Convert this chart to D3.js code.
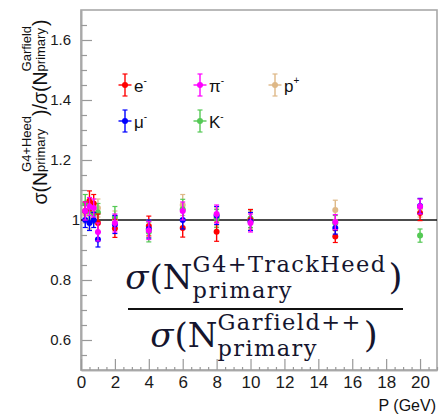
<!DOCTYPE html>
<html>
<head>
<meta charset="utf-8">
<script src="https://cdn.jsdelivr.net/npm/d3@7"></script>
<style>
  body { margin: 0; background: #fff; }
  svg { display: block; }
</style>
</head>
<body>
<svg id="chart" width="439" height="416"></svg>
<script>
// Beam momenta (GeV) at which each particle type was simulated
const momenta = [0.25, 0.5, 0.75, 1, 2, 4, 6, 8, 10, 15, 20];

// Ratio sigma(N_primary, G4+Heed) / sigma(N_primary, Garfield++) and its uncertainty
const electronRatio = [1.030, 1.064, 1.055, 0.990, 0.972, 0.980, 0.973, 0.961, 1.000, 0.945, 1.023];
const electronErr   = [0.030, 0.033, 0.030, 0.030, 0.030, 0.033, 0.030, 0.032, 0.035, 0.020, 0.025];
const muonRatio     = [1.000, 0.990, 1.000, 0.935, 0.985, 0.970, 1.000, 1.015, 0.995, 0.973, 1.047];
const muonErr       = [0.025, 0.025, 0.025, 0.025, 0.030, 0.030, 0.030, 0.030, 0.030, 0.020, 0.025];
const pionRatio     = [1.030, 1.045, 1.040, 0.960, 0.990, 0.965, 1.030, 1.020, 0.990, 0.993, 1.045];
const pionErr       = [0.030, 0.030, 0.030, 0.030, 0.030, 0.030, 0.030, 0.030, 0.030, 0.025, 0.025];
const kaonRatio     = [1.055, 1.030, 1.020, 1.025, 1.010, 0.960, 1.036, 1.005, 1.005, 0.990, 0.948];
const kaonErr       = [0.030, 0.030, 0.030, 0.030, 0.035, 0.033, 0.033, 0.030, 0.030, 0.025, 0.022];
const protonRatio   = [1.020, 1.000, 1.020, 1.040, 1.000, 0.970, 1.050, 1.010, 1.000, 1.033, 1.040];
const protonErr     = [0.030, 0.030, 0.030, 0.030, 0.030, 0.030, 0.035, 0.030, 0.030, 0.033, 0.030];

// Particle labels (symbol + charge) and colours, in legend order
const legendSymbols = ["e", "π", "p", "μ", "K"];
const legendCharges = ["-", "-", "+", "-", "-"];
const legendColors  = ["#ff0000", "#ff00ff", "#deb887", "#0000ff", "#55c955"];

// Axis ticks
const xMajorTicks = d3.range(0, 21, 2);
const xMinorTicks = d3.range(0, 21.01, 0.5).filter(v => v % 2 !== 0);
const yMajorTicks = [0.6, 0.8, 1, 1.2, 1.4, 1.6];
const yMinorTicks = d3.range(0.55, 1.7, 0.05).map(v => +v.toFixed(2)).filter(v => !yMajorTicks.includes(v));

// Series in drawing order (back to front)
const series = [
  { name: "p",  color: "#deb887", ratio: protonRatio,   err: protonErr },
  { name: "K",  color: "#55c955", ratio: kaonRatio,     err: kaonErr },
  { name: "e",  color: "#ff0000", ratio: electronRatio, err: electronErr },
  { name: "mu", color: "#0000ff", ratio: muonRatio,     err: muonErr },
  { name: "pi", color: "#ff00ff", ratio: pionRatio,     err: pionErr }
];

const svg = d3.select("#chart");
const frame = { left: 81, right: 437, top: 10, bottom: 370 };

const x = d3.scaleLinear().domain([0, 21]).range([frame.left, frame.right]);
const y = d3.scaleLinear().domain([0.5, 1.7]).range([frame.bottom, frame.top]);

const sans = "'Liberation Sans', Arial, Helvetica, sans-serif";
const frameColor = "#a8a8a8";

// Frame
svg.append("rect")
  .attr("x", frame.left).attr("y", frame.top)
  .attr("width", frame.right - frame.left).attr("height", frame.bottom - frame.top)
  .attr("fill", "#fff").attr("stroke", frameColor).attr("stroke-width", 1.6);

// Y axis (ticks point into the plot)
const yAxis = svg.append("g")
  .attr("transform", `translate(${frame.left},0)`)
  .call(d3.axisLeft(y).tickValues(yMajorTicks).tickSizeInner(-11).tickSizeOuter(0).tickPadding(10)
        .tickFormat(d3.format("~g")));
svg.append("g")
  .attr("transform", `translate(${frame.left},0)`)
  .call(d3.axisLeft(y).tickValues(yMinorTicks).tickSizeInner(-6).tickSizeOuter(0).tickFormat(""));

// X axis
const xAxis = svg.append("g")
  .attr("transform", `translate(0,${frame.bottom})`)
  .call(d3.axisBottom(x).tickValues(xMajorTicks).tickSizeInner(-11).tickSizeOuter(0).tickPadding(6)
        .tickFormat(d3.format("d")));
svg.append("g")
  .attr("transform", `translate(0,${frame.bottom})`)
  .call(d3.axisBottom(x).tickValues(xMinorTicks).tickSizeInner(-3).tickSizeOuter(0).tickFormat(""));

svg.selectAll(".domain").attr("stroke", frameColor).attr("stroke-width", 1.6);
svg.selectAll(".tick line").attr("stroke", "#999").attr("stroke-width", 1.2);
svg.selectAll(".tick text").attr("fill", "#1a1a1a").style("font-family", sans);
yAxis.selectAll(".tick text").style("font-size", "15px")
  .attr("x", d => Number.isInteger(d) ? -1 : -10);
xAxis.selectAll(".tick text").style("font-size", "17px");

// Reference line at ratio 1
svg.append("line")
  .attr("x1", x(0)).attr("x2", frame.right)
  .attr("y1", y(1)).attr("y2", y(1))
  .attr("stroke", "#111").attr("stroke-width", 1.5);

// Data points with vertical error bars
const cap = 2.5;
series.forEach(s => {
  const g = svg.append("g").attr("class", "series-" + s.name);
  momenta.forEach((p, i) => {
    const cx = x(p), lo = y(s.ratio[i] - s.err[i]), hi = y(s.ratio[i] + s.err[i]);
    g.append("line").attr("x1", cx).attr("x2", cx).attr("y1", lo).attr("y2", hi)
      .attr("stroke", s.color).attr("stroke-width", 1.4);
    g.append("line").attr("x1", cx - cap).attr("x2", cx + cap).attr("y1", lo).attr("y2", lo)
      .attr("stroke", s.color).attr("stroke-width", 1.2);
    g.append("line").attr("x1", cx - cap).attr("x2", cx + cap).attr("y1", hi).attr("y2", hi)
      .attr("stroke", s.color).attr("stroke-width", 1.2);
    g.append("circle").attr("cx", cx).attr("cy", y(s.ratio[i])).attr("r", 3).attr("fill", s.color);
  });
});

// Legend
const legend = svg.append("g").style("font-family", sans);
legendSymbols.forEach((sym, i) => {
  const cx = 125 + (i % 3) * 75, cy = 85 + Math.floor(i / 3) * 36;
  const c = legendColors[i];
  const g = legend.append("g");
  g.append("line").attr("x1", cx - 6.5).attr("x2", cx + 6.5).attr("y1", cy).attr("y2", cy)
    .attr("stroke", c).attr("stroke-width", 1.4);
  g.append("line").attr("x1", cx).attr("x2", cx).attr("y1", cy - 11).attr("y2", cy + 11)
    .attr("stroke", c).attr("stroke-width", 1.4);
  [cy - 11, cy + 11].forEach(yy => g.append("line").attr("x1", cx - 2.5).attr("x2", cx + 2.5)
    .attr("y1", yy).attr("y2", yy).attr("stroke", c).attr("stroke-width", 1.2));
  g.append("circle").attr("cx", cx).attr("cy", cy).attr("r", 3).attr("fill", c);
  const t = g.append("text").attr("x", cx + 9).attr("y", cy + 7).attr("fill", "#111")
    .style("font-size", "17px");
  t.append("tspan").text(sym);
  t.append("tspan").attr("dy", -8).style("font-size", "10px").text(legendCharges[i]);
});

// Helper: lays out one text run with stacked super/subscripts (as tspans of a single <text>)
function scripted(parent, parts, cfg) {
  const text = parent.append("text");
  let cx = 0;
  parts.forEach(p => {
    if (p.sup !== undefined) {
      const a = text.append("tspan").attr("x", cx).attr("y", cfg.supDy)
        .style("font-size", cfg.small + "px").style("letter-spacing", (cfg.track || 0) + "px").text(p.sup);
      const b = text.append("tspan").attr("x", cx).attr("y", cfg.subDy)
        .style("font-size", cfg.small + "px").style("letter-spacing", (cfg.track || 0) + "px").text(p.sub);
      cx += Math.max(a.node().getComputedTextLength(), b.node().getComputedTextLength()) + (cfg.gap || 0);
    } else {
      const t = text.append("tspan").attr("x", cx).attr("y", 0)
        .style("font-size", (p.size || cfg.big) + "px").text(p.t);
      if (p.italic) t.style("font-style", "italic");
      cx += t.node().getComputedTextLength() + (p.after || 0);
    }
  });
  return { text, width: cx };
}

// Y axis title
const yTitle = svg.append("g")
  .attr("transform", "translate(46.5,112) rotate(-90)")
  .style("font-family", sans).attr("fill", "#111");
const yt = scripted(yTitle, [
  { t: "σ(N" }, { sup: "G4+Heed", sub: "primary" },
  { t: ")/σ(N" }, { sup: "Garfield", sub: "primary" }, { t: ")" }
], { big: 19.5, small: 13, supDy: -15.5, subDy: -2 });
yt.text.attr("transform", `translate(${-yt.width / 2},0)`);

// X axis title
svg.append("text").attr("x", 436).attr("y", 411).attr("text-anchor", "end")
  .style("font-family", sans).style("font-size", "16px").attr("fill", "#111")
  .text("P (GeV)");

// Ratio definition drawn as a fraction
const serif = "'DejaVu Serif', 'Liberation Serif', serif";
const formula = svg.append("g").style("font-family", serif).attr("fill", "#15152e");
const fracCenter = 264;
const fracScript = { big: 34, small: 22.5, supDy: -17, subDy: 8.5, gap: 2, track: 1.4 };
const num = scripted(formula, [
  { t: "σ", italic: true, after: 1 }, { t: "(N" }, { sup: "G4+TrackHeed", sub: "primary" }, { t: ")", size: 36 }
], fracScript);
num.text.attr("transform", `translate(${fracCenter - num.width / 2},289)`);
const den = scripted(formula, [
  { t: "σ", italic: true, after: 1 }, { t: "(N" }, { sup: "Garfield++", sub: "primary" }, { t: ")", size: 36 }
], fracScript);
den.text.attr("transform", `translate(${fracCenter - den.width / 2},347)`);
formula.append("line").attr("x1", 128).attr("x2", 403).attr("y1", 309).attr("y2", 309)
  .attr("stroke", "#111").attr("stroke-width", 2);
</script>
</body>
</html>
